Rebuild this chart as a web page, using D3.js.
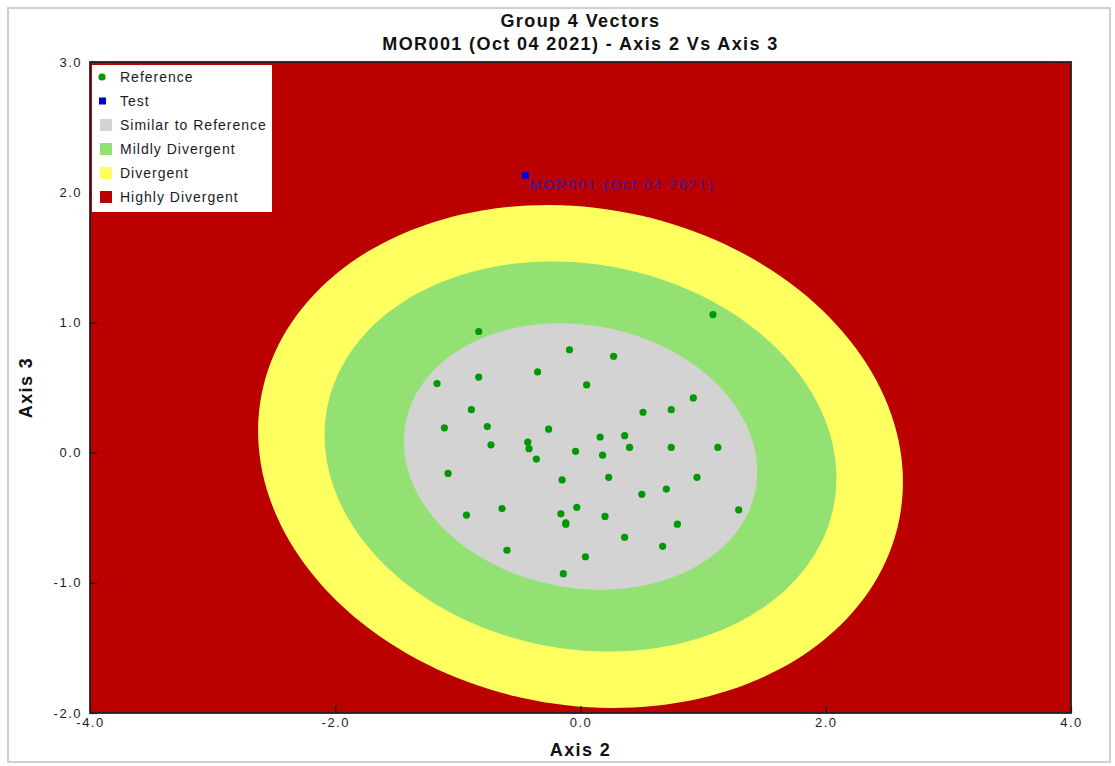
<!DOCTYPE html>
<html>
<head>
<meta charset="utf-8">
<script src="https://cdn.jsdelivr.net/npm/d3@7"></script>
<style>
  body { margin: 0; background: #fff; }
  svg text { font-family: "Liberation Sans", Arial, sans-serif; }
</style>
</head>
<body>
<svg id="chart" width="1115" height="766"></svg>
<script>
// ---- chart data ----
const titleLines = ["Group 4 Vectors", "MOR001 (Oct 04 2021) - Axis 2 Vs Axis 3"];
const xAxisTitle = "Axis 2";
const yAxisTitle = "Axis 3";
const xTicks = [-4, -2, 0, 2, 4];
const yTicks = [-2, -1, 0, 1, 2, 3];

// Reference vectors (Axis 2, Axis 3)
const refX = [-0.83, 1.08, -0.09, 0.27, -1.17, -0.83, -0.35, 0.05, 0.92, -0.89,
              0.51, 0.74, -1.11, -0.76, -0.26, 0.16, 0.36, -0.43, -0.42, -0.73,
              -0.04, 0.40, 0.74, 1.12, -0.36, 0.18, -1.08, 0.23, 0.95, -0.15,
              0.70, 0.50, -0.64, -0.03, -0.93, 1.29, -0.16, 0.20, -0.12, -0.12,
              0.79, 0.36, 0.67, -0.60, 0.04, -0.14];
const refY = [0.93, 1.06, 0.79, 0.74, 0.53, 0.58, 0.62, 0.52, 0.42, 0.33,
              0.31, 0.33, 0.19, 0.20, 0.18, 0.12, 0.13, 0.08, 0.03, 0.06,
              0.01, 0.04, 0.04, 0.04, -0.05, -0.02, -0.16, -0.19, -0.19, -0.21,
              -0.28, -0.32, -0.43, -0.42, -0.48, -0.44, -0.47, -0.49, -0.54, -0.55,
              -0.55, -0.65, -0.72, -0.75, -0.80, -0.93];

// Test vector
const testX = [-0.45];
const testY = [2.13];
const testLabels = ["MOR001 (Oct 04 2021)"];

// Divergence zones (inner to outer), tilted ellipses around the reference cloud
const zoneNames = ["Similar to Reference", "Mildly Divergent", "Divergent"];
const zoneColors = ["#d3d3d3", "#93e173", "#ffff60"];
const zoneSemiX = [1.45, 2.10, 2.645];
const zoneSemiY = [1.01, 1.48, 1.91];
const zoneCenter = [0.0, -0.03];
const zoneTiltDeg = -9;
const outsideName = "Highly Divergent";
const outsideColor = "#bb0000";

const refColor = "#009900";
const testColor = "#0000cc";

// ---- layout ----
const svg = d3.select("#chart");
const plot = { left: 90, right: 1071, top: 62, bottom: 713 };

const x = d3.scaleLinear().domain([-4, 4]).range([plot.left, plot.right]);
const y = d3.scaleLinear().domain([-2, 3]).range([plot.bottom, plot.top]);

// outer frame
svg.append("rect")
  .attr("x", 8).attr("y", 8).attr("width", 1102).attr("height", 754)
  .attr("fill", "#fff").attr("stroke", "#cfcfcf").attr("stroke-width", 2);

// titles
svg.selectAll("text.title").data(titleLines).join("text")
  .attr("class", "title")
  .attr("x", (plot.left + plot.right) / 2)
  .attr("y", (d, i) => 27 + i * 23)
  .attr("text-anchor", "middle")
  .attr("font-size", 18).attr("font-weight", "bold").attr("fill", "#111")
  .attr("letter-spacing", 1.4)
  .text(d => d);

// clip for plot area
svg.append("clipPath").attr("id", "plotClip")
  .append("rect")
  .attr("x", plot.left).attr("y", plot.top)
  .attr("width", plot.right - plot.left).attr("height", plot.bottom - plot.top);

const g = svg.append("g").attr("clip-path", "url(#plotClip)");

// background zone
g.append("rect")
  .attr("x", plot.left).attr("y", plot.top)
  .attr("width", plot.right - plot.left).attr("height", plot.bottom - plot.top)
  .attr("fill", outsideColor);

// ellipse outline sampled in data space, then mapped through the scales
function ellipsePoints(ax, by) {
  const phi = zoneTiltDeg * Math.PI / 180;
  return d3.range(0, 361, 2).map(deg => {
    const t = deg * Math.PI / 180;
    const ex = ax * Math.cos(t), ey = by * Math.sin(t);
    return [zoneCenter[0] + ex * Math.cos(phi) - ey * Math.sin(phi),
            zoneCenter[1] + ex * Math.sin(phi) + ey * Math.cos(phi)];
  });
}
const ellipseLine = d3.line().x(d => x(d[0])).y(d => y(d[1])).curve(d3.curveLinearClosed);

const zoneIdx = d3.range(zoneNames.length).reverse();
g.selectAll("path.zone").data(zoneIdx).join("path")
  .attr("class", "zone")
  .attr("d", i => ellipseLine(ellipsePoints(zoneSemiX[i], zoneSemiY[i])))
  .attr("fill", i => zoneColors[i]);

// reference points
g.selectAll("circle.ref").data(d3.range(refX.length)).join("circle")
  .attr("class", "ref")
  .attr("cx", i => x(refX[i])).attr("cy", i => y(refY[i]))
  .attr("r", 3.6).attr("fill", refColor);

// test points
g.selectAll("rect.test").data(d3.range(testX.length)).join("rect")
  .attr("class", "test")
  .attr("x", i => x(testX[i]) - 3.5).attr("y", i => y(testY[i]) - 3.5)
  .attr("width", 7).attr("height", 7).attr("fill", testColor);
g.selectAll("text.testLabel").data(d3.range(testX.length)).join("text")
  .attr("class", "testLabel")
  .attr("x", i => x(testX[i]) + 4).attr("y", i => y(testY[i]) + 15)
  .attr("font-size", 14).attr("fill", "#3a1aa8").attr("letter-spacing", 2)
  .text(i => testLabels[i]);

// axes with inward ticks
const fmt = v => d3.format(".1f")(v).replace("\u2212", "-");
const xAxis = svg.append("g")
  .attr("transform", `translate(0,${plot.bottom})`)
  .call(d3.axisBottom(x).tickValues(xTicks).tickFormat(fmt).tickSize(-7).tickPadding(5));
const yAxis = svg.append("g")
  .attr("transform", `translate(${plot.left},0)`)
  .call(d3.axisLeft(y).tickValues(yTicks).tickFormat(fmt).tickSize(-7).tickPadding(8));
[xAxis, yAxis].forEach(a => {
  a.select(".domain").remove();
  a.selectAll(".tick line").attr("stroke", "#111").attr("stroke-width", 1.2);
  a.selectAll(".tick text").attr("font-size", 13).attr("fill", "#1a1a2a")
    .attr("letter-spacing", 1.5)
    .attr("font-family", "'Liberation Sans', Arial, sans-serif");
});

// plot border
svg.append("rect")
  .attr("x", plot.left).attr("y", plot.top)
  .attr("width", plot.right - plot.left).attr("height", plot.bottom - plot.top)
  .attr("fill", "none").attr("stroke", "#222").attr("stroke-width", 1.8);

// axis titles
svg.append("text")
  .attr("x", (plot.left + plot.right) / 2).attr("y", 756)
  .attr("text-anchor", "middle").attr("font-size", 18).attr("font-weight", "bold").attr("fill", "#111")
  .attr("letter-spacing", 1.4)
  .text(xAxisTitle);
svg.append("text")
  .attr("transform", `translate(32,${(plot.top + plot.bottom) / 2}) rotate(-90)`)
  .attr("text-anchor", "middle").attr("font-size", 18).attr("font-weight", "bold").attr("fill", "#111")
  .attr("letter-spacing", 1.4)
  .text(yAxisTitle);

// legend
const legendItems = [
  { name: "Reference", kind: "circle", color: refColor },
  { name: "Test", kind: "square", color: testColor },
  ...zoneNames.map((n, i) => ({ name: n, kind: "swatch", color: zoneColors[i] })),
  { name: outsideName, kind: "swatch", color: outsideColor }
];
const legend = svg.append("g").attr("transform", "translate(92,65)");
legend.append("rect").attr("width", 180).attr("height", 147).attr("fill", "#fff");
const rows = legend.selectAll("g.row").data(legendItems).join("g")
  .attr("class", "row")
  .attr("transform", (d, i) => `translate(0,${12 + i * 24})`);
rows.filter(d => d.kind === "circle").append("circle")
  .attr("cx", 10).attr("cy", 0).attr("r", 3.6).attr("fill", d => d.color);
rows.filter(d => d.kind === "square").append("rect")
  .attr("x", 7).attr("y", -3.5).attr("width", 7).attr("height", 7).attr("fill", d => d.color);
rows.filter(d => d.kind === "swatch").append("rect")
  .attr("x", 8).attr("y", -6).attr("width", 12).attr("height", 12).attr("fill", d => d.color);
rows.append("text")
  .attr("x", 28).attr("y", 0).attr("dy", "0.35em")
  .attr("font-size", 14).attr("fill", "#1a1a2a").attr("letter-spacing", 1)
  .text(d => d.name);
</script>
</body>
</html>
